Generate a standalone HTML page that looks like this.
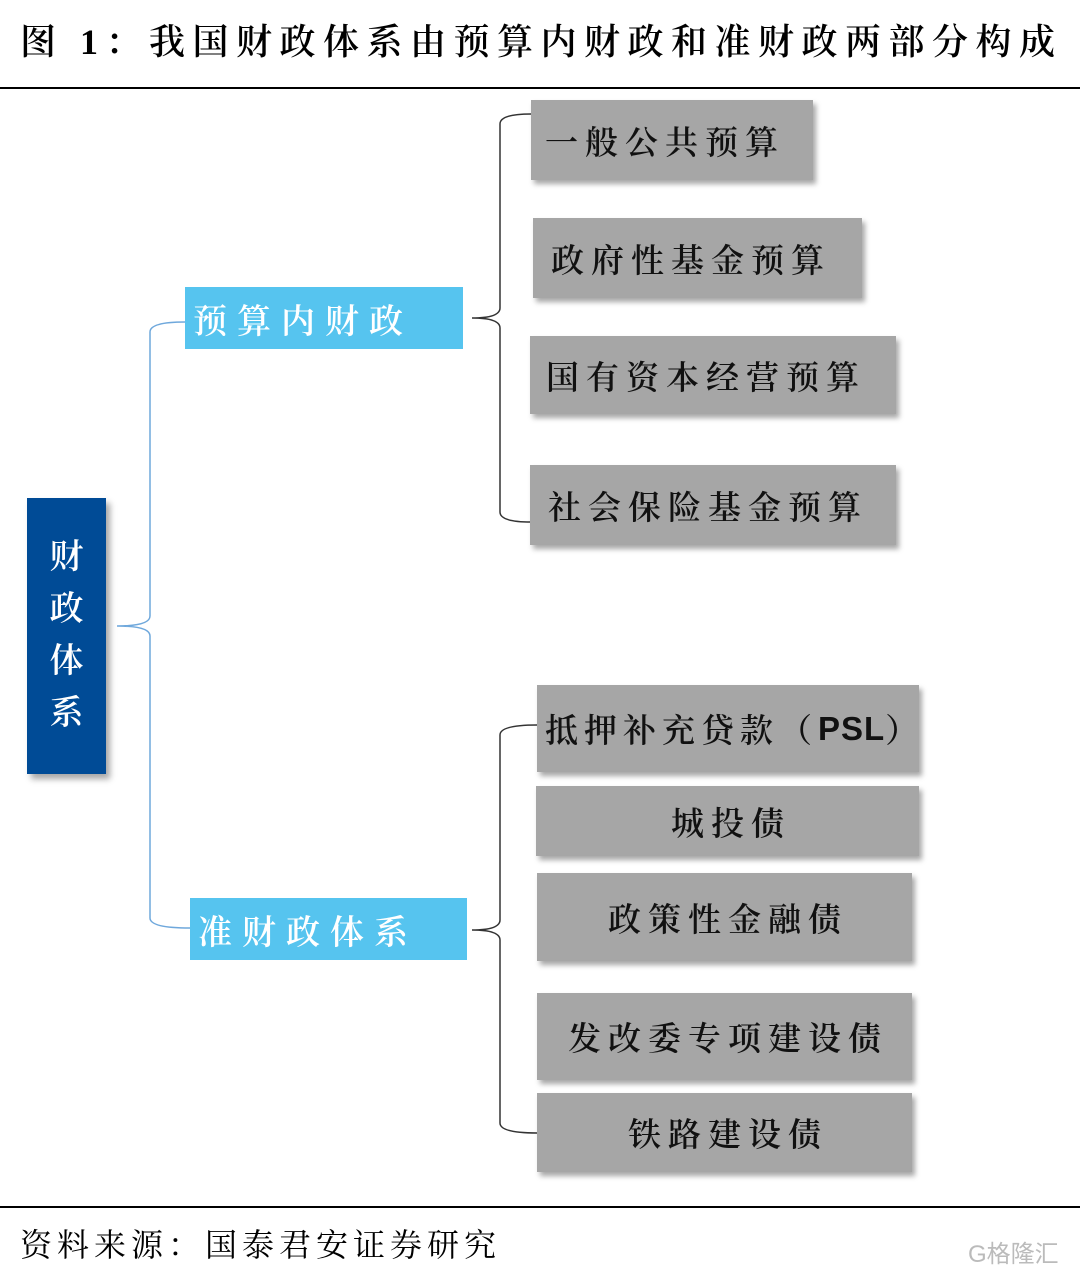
<!DOCTYPE html>
<html><head><meta charset="utf-8"><style>
body{margin:0;width:1080px;height:1273px;background:#fff;position:relative;overflow:hidden;font-family:"Liberation Serif","Noto Serif CJK SC",serif}
.t{position:absolute;left:20px;top:14px;font-size:36px;color:#000;letter-spacing:7.5px;white-space:nowrap;font-weight:600}
.hr{position:absolute;left:0;width:1080px;height:2px;background:#000}
.b{position:absolute;background:#a6a6a6;box-shadow:3px 4px 5px rgba(0,0,0,0.35);font-size:33px;color:#111;display:flex;align-items:center;white-space:nowrap;letter-spacing:7px;box-sizing:border-box;font-weight:600}
.lb{position:absolute;background:#56c4ef;color:#fff;font-size:34px;display:flex;align-items:center;padding-left:8px;box-sizing:border-box;letter-spacing:10px;font-weight:600}
.db{position:absolute;left:27px;top:498px;width:79px;height:276px;background:#004b96;box-shadow:4px 5px 6px rgba(0,0,0,0.35);color:#fff;font-size:34px;line-height:52px;text-align:center;padding-top:34px;box-sizing:border-box;font-weight:600}
.src{position:absolute;left:20px;top:1220px;font-size:32px;letter-spacing:5px}
</style></head><body>
<div class="t">图 1：我国财政体系由预算内财政和准财政两部分构成</div>
<div class="hr" style="top:87px"></div>
<div class="hr" style="top:1206px"></div>
<svg width="1080" height="1273" style="position:absolute;left:0;top:0">
<path d="M185 322 Q150 322 150 332 L150 616 Q150 626 117 626 Q150 626 150 636 L150 918 Q150 928 190 928" fill="none" stroke="#6fa8dc" stroke-width="1.5"/>
<path d="M531 114 Q500 114 500 124 L500 308 Q500 318 472 318 Q500 318 500 328 L500 512 Q500 522 531 522" fill="none" stroke="#333" stroke-width="1.5"/>
<path d="M537 725 Q500 725 500 735 L500 920 Q500 930 472 930 Q500 930 500 940 L500 1123 Q500 1133 537 1133" fill="none" stroke="#333" stroke-width="1.5"/>
</svg>
<div class="db">财<br>政<br>体<br>系</div>
<div class="lb" style="left:185px;top:287px;width:278px;height:62px">预算内财政</div>
<div class="lb" style="left:190px;top:898px;width:277px;height:62px">准财政体系</div>
<div class="b" style="left:531px;top:100px;width:282px;height:80px;padding-left:14px">一般公共预算</div>
<div class="b" style="left:533px;top:218px;width:329px;height:80px;padding-left:18px">政府性基金预算</div>
<div class="b" style="left:530px;top:336px;width:366px;height:78px;padding-left:16px">国有资本经营预算</div>
<div class="b" style="left:530px;top:465px;width:366px;height:80px;padding-left:18px">社会保险基金预算</div>
<div class="b" style="left:537px;top:685px;width:382px;height:87px;padding-left:8px;letter-spacing:6px">抵押补充贷款（<b style="font-family:'Liberation Sans',sans-serif;letter-spacing:1px">PSL</b>）</div>
<div class="b" style="left:536px;top:786px;width:383px;height:70px;justify-content:center;padding-left:7px">城投债</div>
<div class="b" style="left:537px;top:873px;width:375px;height:88px;justify-content:center;padding-left:7px">政策性金融债</div>
<div class="b" style="left:537px;top:993px;width:375px;height:87px;justify-content:center;padding-left:7px">发改委专项建设债</div>
<div class="b" style="left:537px;top:1093px;width:375px;height:79px;justify-content:center;padding-left:7px">铁路建设债</div>
<div class="src">资料来源：国泰君安证券研究</div>
<div style="position:absolute;left:968px;top:1234px;font-size:24px;color:#bbb;font-family:'Liberation Sans','Noto Sans CJK SC',sans-serif">G格隆汇</div>
</body></html>
